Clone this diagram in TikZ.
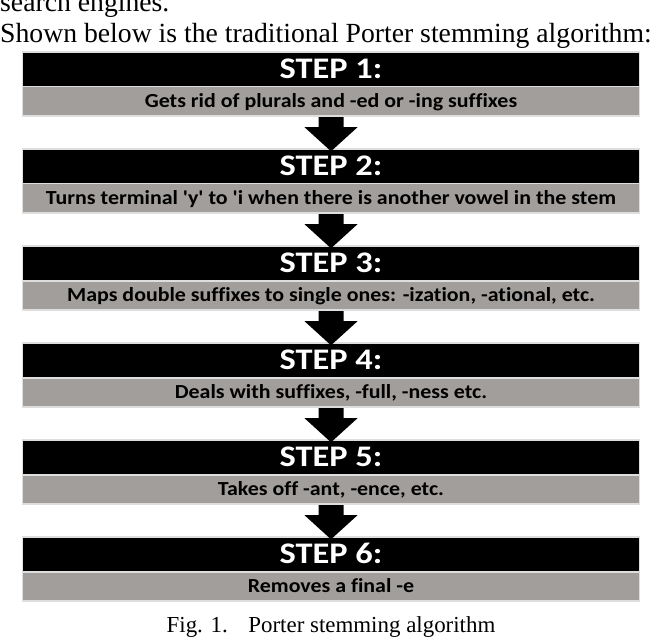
\documentclass[tikz,border=0pt]{standalone}
\usepackage{fontspec}
\setmainfont{Liberation Serif}
\newfontfamily\calfont[Ligatures={NoCommon}]{Carlito}
\usetikzlibrary{calc}
\definecolor{barg}{HTML}{A19E9B}
\definecolor{edgeg}{HTML}{DEDEDE}
\newcommand\hwide[1]{\scalebox{1.15}[1]{#1}}
\newcommand\dwide[1]{\scalebox{1.1}[1]{#1}}
\newcommand\porterarrow[2]{%
  \fill[downarrow] ($(#1.south)+(-12.5,0)$) -- ($(#1.south)+(12.5,0)$)
    -- ($(#1.south)+(12.5,10)$) -- ($(#1.south)+(26.5,10)$)
    -- ($(#2.north)+(0,1.5)$)
    -- ($(#1.south)+(-26.5,10)$) -- ($(#1.south)+(-12.5,10)$) -- cycle;}
\begin{document}
\begin{tikzpicture}[x=1bp,y=-1bp,
  hdr/.style={fill=black,text=white,minimum width=615bp,minimum height=33bp,inner sep=0pt,
    font=\calfont\bfseries\fontsize{30}{30}\selectfont,text height=18.5bp,text depth=0bp},
  desc/.style={fill=barg,text=black,minimum width=615bp,minimum height=27.5bp,inner sep=0pt,
    font=\calfont\bfseries\fontsize{20}{20}\selectfont,text height=12.6bp,text depth=0bp},
  framebox/.style={fill=edgeg,minimum width=618bp,minimum height=66bp,inner sep=0pt},
  downarrow/.style={fill=black},
  prose/.style={inner sep=0pt,font=\fontsize{27.8}{27.8}\selectfont},
  captext/.style={inner sep=0pt,font=\fontsize{23}{23}\selectfont}]
\useasboundingbox (0,0) rectangle (652,640);
\fill[white] (0,0) rectangle (652,640);
\node[prose,anchor=base west] (t0) at (0,12) {search engines.};
\node[prose,anchor=base west] (t1) at (0,43) {Shown below is the traditional Porter stemming algorithm:};
% step 1
\node[framebox] (f1) at (331,84) {};
\node[hdr] (h1) at (331,69.5) {\hwide{STEP 1:}};
\node[desc] (d1) at (331,101.25) {\dwide{Gets rid of plurals and -ed or -ing suffixes}};
% step 2
\node[framebox] (f2) at (331,181) {};
\node[hdr] (h2) at (331,166.5) {\hwide{STEP 2:}};
\node[desc] (d2) at (331,198.25) {\dwide{Turns terminal \textquotesingle y\textquotesingle{} to \textquotesingle i when there is another vowel in the stem}};
% step 3
\node[framebox] (f3) at (331,278) {};
\node[hdr] (h3) at (331,263.5) {\hwide{STEP 3:}};
\node[desc] (d3) at (331,295.25) {\dwide{Maps double suffixes to single ones: -ization, -ational, etc.}};
% step 4
\node[framebox] (f4) at (331,375) {};
\node[hdr] (h4) at (331,360.5) {\hwide{STEP 4:}};
\node[desc] (d4) at (331,392.25) {\dwide{Deals with suffixes, -full, -ness etc.}};
% step 5
\node[framebox] (f5) at (331,472) {};
\node[hdr] (h5) at (331,457.5) {\hwide{STEP 5:}};
\node[desc] (d5) at (331,489.25) {\dwide{Takes off -ant, -ence, etc.}};
% step 6
\node[framebox] (f6) at (331,569) {};
\node[hdr] (h6) at (331,554.5) {\hwide{STEP 6:}};
\node[desc] (d6) at (331,586.25) {\dwide{Removes a final -e}};
% arrows
\porterarrow{f1}{h2}
\porterarrow{f2}{h3}
\porterarrow{f3}{h4}
\porterarrow{f4}{h5}
\porterarrow{f5}{h6}
\node[captext,anchor=base] (cap) at (331,632) {Fig. 1.\hspace{0.9em}Porter stemming algorithm};
\end{tikzpicture}
\end{document}
